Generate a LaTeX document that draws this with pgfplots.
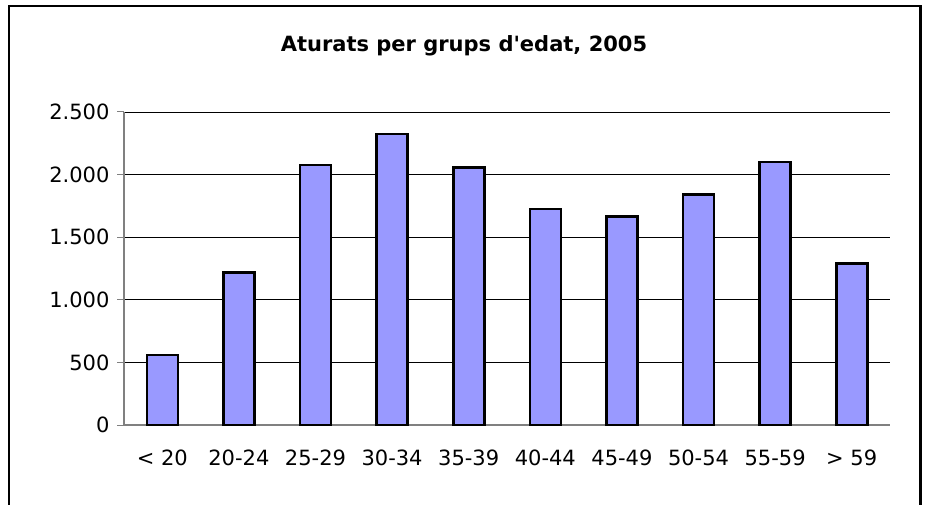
\documentclass[border=0pt]{standalone}
\usepackage{pgfplots}
\pgfplotsset{compat=1.18}
\usepackage{fontspec}
\setmainfont{DejaVu Sans}[Ligatures=TeXOff]
\definecolor{barfill}{HTML}{9999FF}
\definecolor{axgray}{HTML}{808080}
\begin{document}
\begin{tikzpicture}[x=1pt,y=1pt]
\useasboundingbox (0,0) rectangle (928,504);
\begin{scope}
\clip (0,0) rectangle (928,504);
\draw[line width=2.2pt] (9,-20) rectangle (920.5,498);
\end{scope}
\node[anchor=base, font=\fontsize{21}{24}\selectfont\bfseries] at (464,452) {Aturats per grups d'edat, 2005};
\begin{axis}[
  at={(124pt,79pt)}, anchor=south west,
  scale only axis, width=766pt, height=313pt,
  xmin=-0.5, xmax=9.5, ymin=0, ymax=2500,
  axis lines=left, axis line style={-, axgray, line width=1.2pt},
  xtick={0,...,9},
  xticklabels={{< 20},20-24,25-29,30-34,35-39,40-44,45-49,50-54,55-59,{> 59}},
  xtick style={draw=none},
  minor xtick={-0.5,0.5,...,9.5},
  minor x tick style={axgray, line width=1pt},
  ytick={0,500,...,2500},
  ytick style={axgray, line width=1pt},
  tick align=outside,
  major tick length=7pt, minor tick length=7pt,
  ymajorgrids, grid style={black, line width=0.9pt},
  ticklabel style={font=\fontsize{21}{25}\selectfont},
  /pgf/number format/assume math mode=true,
  /pgf/number format/.cd, 1000 sep={.},
  /pgfplots/.cd,
  xticklabel style={yshift=-14pt},
  yticklabel style={xshift=-4pt},
  ybar, bar width=31pt,
  clip=false,
]
\addplot[fill=barfill, draw=black, line width=2.6pt] coordinates {
(0,560) (1,1220) (2,2078) (3,2323) (4,2056) (5,1725) (6,1663) (7,1842) (8,2102) (9,1291)};
\end{axis}
\end{tikzpicture}
\end{document}
